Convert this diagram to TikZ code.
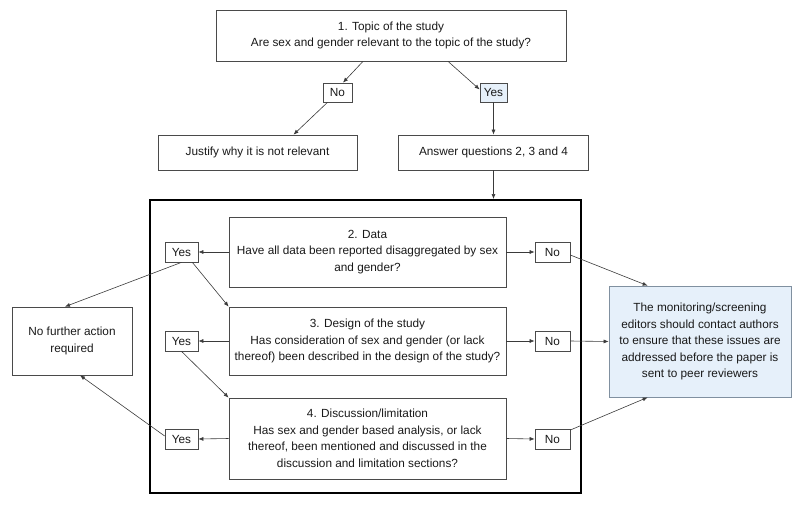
\documentclass[tikz,border=0pt]{standalone}
\usepackage{fontspec}
\setmainfont{Liberation Sans}
\usetikzlibrary{arrows.meta,calc}
\definecolor{boxline}{HTML}{4A4A4A}
\definecolor{arrline}{HTML}{3A3A3A}
\definecolor{lightblue}{HTML}{E6F0FA}
\definecolor{blueline}{HTML}{8090A0}
\begin{document}
\begin{tikzpicture}[x=1pt,y=-1pt,
  every node/.style={font=\fontsize{11.8}{16.5}\selectfont, text=black!90},
  box/.style={draw=boxline, line width=0.7pt, inner sep=0pt, align=center},
  tag/.style={draw=boxline, line width=0.7pt, inner sep=0pt, align=center},
  arr/.style={draw=arrline, line width=0.6pt, -{Latex[length=5pt,width=4pt]}},
]
\useasboundingbox (0,0) rectangle (796,506);
% top part
\node[box, minimum width=350pt, minimum height=51pt] (top) at (391,35.5)
  {1. Topic of the study\\Are sex and gender relevant to the topic of the study?};
\node[tag, minimum width=29pt, minimum height=19pt] (noT) at (337.5,92.5) {No};
\node[tag, fill=lightblue, minimum width=27pt, minimum height=19pt] (yesT) at (493.5,92.5) {Yes};
\node[box, minimum width=199pt, minimum height=35pt] (justify) at (257.5,152.5) {Justify why it is not relevant};
\node[box, minimum width=190pt, minimum height=35pt] (answer) at (493.5,152.5) {Answer questions 2, 3 and 4};
% frame
\node[draw=black, line width=2pt, minimum width=431pt, minimum height=293pt, inner sep=0pt] (frame) at (365.5,346.5) {};
% question boxes
\node[box, minimum width=277pt, minimum height=70pt] (data) at (367.5,252)
  {2. Data\\Have all data been reported disaggregated by sex\\and gender?};
\node[box, minimum width=277pt, minimum height=68pt] (design) at (367.5,341)
  {3. Design of the study\\Has consideration of sex and gender (or lack\\thereof) been described in the design of the study?};
\node[box, minimum width=277pt, minimum height=81pt] (disc) at (367.5,438.5)
  {4. Discussion/limitation\\Has sex and gender based analysis, or lack\\thereof, been mentioned and discussed in the\\discussion and limitation sections?};
% yes / no tags
\node[tag, minimum width=33pt, minimum height=20pt] (yes1) at (181.5,252) {Yes};
\node[tag, minimum width=33pt, minimum height=20pt] (yes2) at (181.5,341) {Yes};
\node[tag, minimum width=33pt, minimum height=20pt] (yes3) at (181.5,439) {Yes};
\node[tag, minimum width=35pt, minimum height=20pt] (no1) at (552.5,252) {No};
\node[tag, minimum width=35pt, minimum height=20pt] (no2) at (552.5,341) {No};
\node[tag, minimum width=35pt, minimum height=20pt] (no3) at (552.5,439) {No};
% outcomes
\node[box, minimum width=120pt, minimum height=68pt] (nfa) at (72,341) {No further action\\required};
\node[box, draw=blueline, fill=lightblue, minimum width=182pt, minimum height=111pt] (mon) at (700,341.5)
  {The monitoring/screening\\editors should contact authors\\to ensure that these issues are\\addressed before the paper is\\sent to peer reviewers};
% arrows top
\draw[arr] ($(top.south)+(-28,0)$) -- ($(noT.north)+(5.5,0)$);
\draw[arr] ($(top.south)+(57,0)$) -- ($(yesT.west)+(0,-3)$);
\draw[arr] ($(noT.south)+(-10,0)$) -- ($(justify.north)+(36,0)$);
\draw[arr] (yesT.south) -- (yesT.south |- answer.north);
\draw[arr] (answer.south) -- (answer.south |- frame.north);
% arrows inside
\draw[arr] (data.west) -- (yes1.east);
\draw[arr] (design.west) -- (yes2.east);
\draw[arr] (disc.west) -- (yes3.east);
\draw[arr] (data.east) -- (no1.west);
\draw[arr] (design.east) -- (no2.west);
\draw[arr] (disc.east) -- (no3.west);
\draw[arr] (yes1.south) -- ($(nfa.north)+(-7,0)$);
\draw[arr] ($(yes1.south east)+(-6,0)$) -- (design.north west);
\draw[arr] (yes2.south) -- (disc.north west);
\draw[arr] ($(yes3.west)+(0,-3)$) -- ($(nfa.south)+(8,0)$);
\draw[arr] ($(no1.east)+(0,3)$) -- ($(mon.north west)+(39,0)$);
\draw[arr] (no2.east) -- (mon.west);
\draw[arr] ($(no3.east)+(0,-9)$) -- ($(mon.south west)+(39,0)$);
\end{tikzpicture}
\end{document}
